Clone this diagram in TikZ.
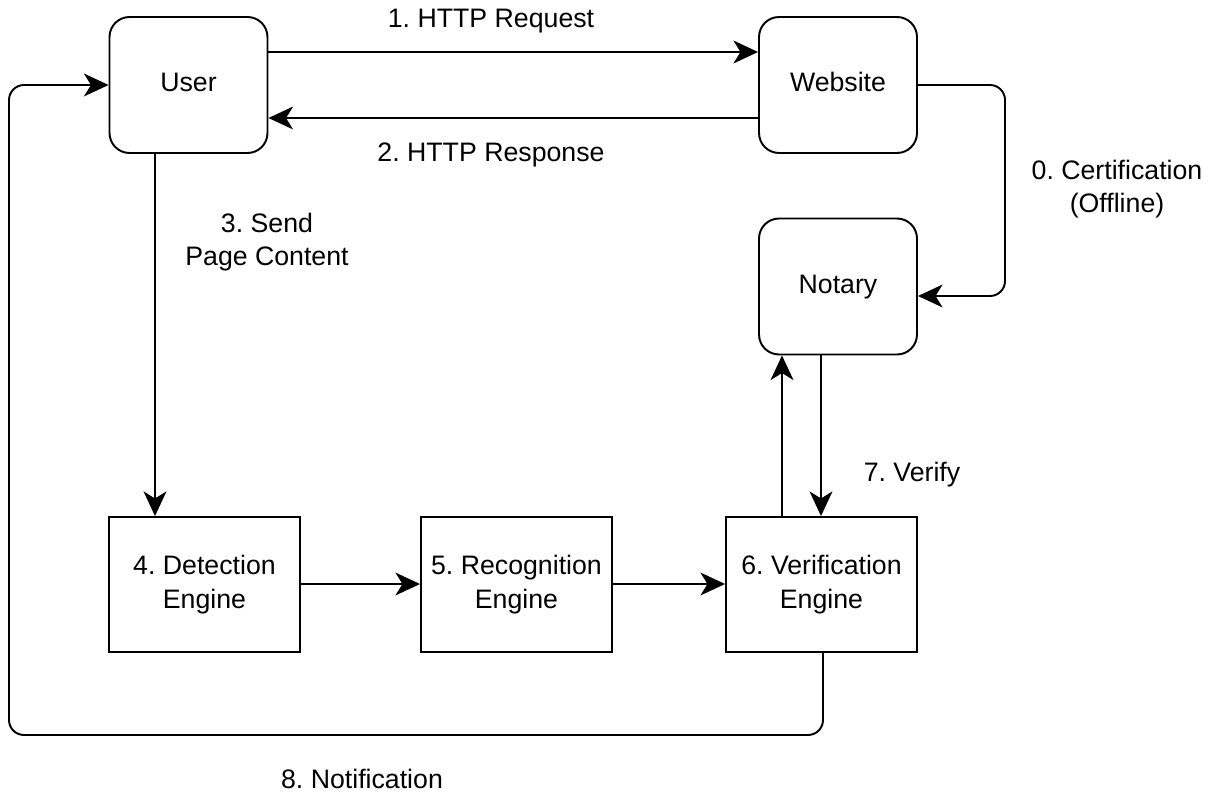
\documentclass[tikz,border=0pt]{standalone}
\usepackage{fontspec}
\setmainfont{Liberation Sans}
\frenchspacing
\usetikzlibrary{arrows.meta}
\tikzset{
  party/.style={draw, line width=1.1pt, rounded corners=0.4cm, minimum width=3.16cm, minimum height=2.72cm, text height=11pt, text depth=3.4pt, font=\fontsize{15.2}{19}\selectfont},
  engine/.style={draw, line width=1.1pt, minimum width=3.82cm, minimum height=2.7cm, align=center, font=\fontsize{15.2}{19}\selectfont},
  lbl/.style={align=center, font=\fontsize{15.2}{19}\selectfont, inner sep=0pt},
  arr/.style={line width=1.1pt, -{Stealth[length=14pt, width=13pt, inset=4pt]}}
}
\begin{document}
\begin{tikzpicture}[x=0.02cm, y=-0.02cm]
\useasboundingbox (0,0) rectangle (1216,794);

% parties
\node[party] (user)   at (188.5,85)  {User};
\node[party] (web)    at (838,85)    {Website};
\node[party] (notary) at (838,286.5) {Notary};

% processing engines
\node[engine] (det) at (204.5,584.5) {4. Detection\\Engine};
\node[engine] (rec) at (516.5,584.5) {5. Recognition\\Engine};
\node[engine] (ver) at (821.5,584.5) {6. Verification\\Engine};

% request / response
\draw[arr] (user.east |- 0,52) -- (web.west |- 0,52);
\draw[arr] (web.west |- 0,118) -- (user.east |- 0,118);
\node[lbl] (l1) at (491,21) {1. HTTP Request};
\node[lbl] (l2) at (491,155) {2. HTTP Response};

% offline certification
\coordinate (c0a) at (1005,85);
\coordinate (c0b) at (1005,296);
\draw[arr, rounded corners=0.3cm] (web.east) -- (c0a) -- (c0b) -- (notary.east |- c0b);
\node[lbl] (l0) at (1117,189) {0. Certification\\(Offline)};

% page content to detection
\draw[arr] (user.south -| 155,0) -- (det.north -| 155,0);
\node[lbl] (l3) at (267,242) {3. Send\\Page Content};

% engine pipeline
\draw[arr] (det.east |- 0,584) -- (rec.west |- 0,584);
\draw[arr] (rec.east |- 0,584) -- (ver.west |- 0,584);

% verification with notary
\draw[arr] (ver.north -| 782,0) -- (notary.south -| 782,0);
\draw[arr] (notary.south -| 821,0) -- (ver.north -| 821,0);
\node[lbl] (l7) at (912,475) {7. Verify};

% notification back to user
\coordinate (n1) at (823,735);
\coordinate (n2) at (9,735);
\coordinate (n3) at (9,85);
\draw[arr, rounded corners=0.3cm] (ver.south -| n1) -- (n1) -- (n2) -- (n3) -- (user.west);
\node[lbl] (l8) at (362,779) {8. Notification};
\end{tikzpicture}
\end{document}
